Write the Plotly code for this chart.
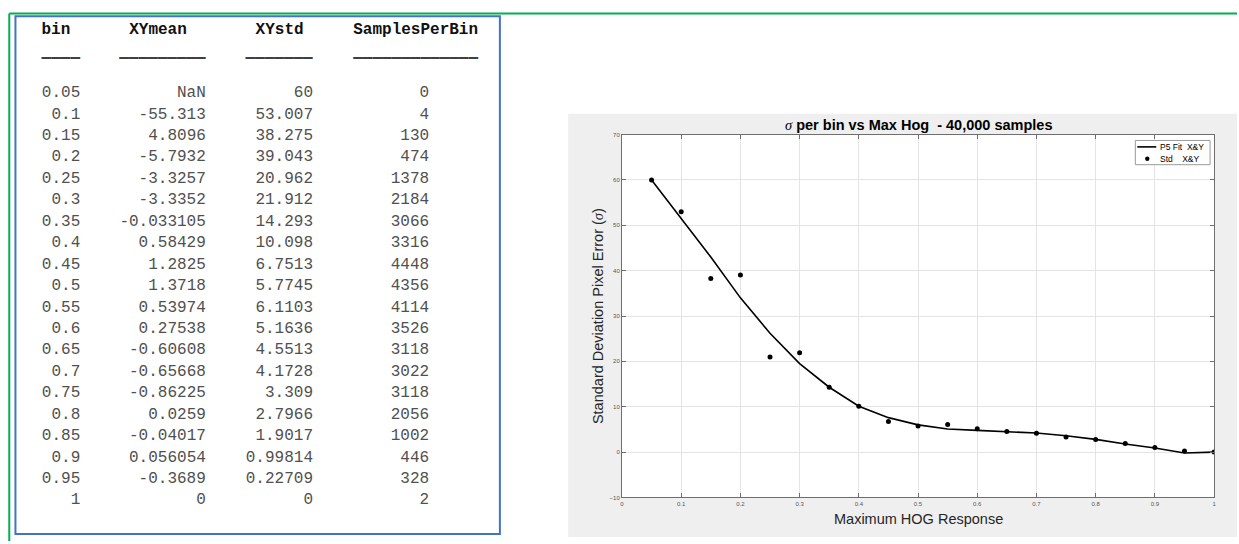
import plotly.graph_objects as go

W, H = 1239, 544

# ---------------- data ----------------
bins = [0.05, 0.1, 0.15, 0.2, 0.25, 0.3, 0.35, 0.4, 0.45, 0.5,
        0.55, 0.6, 0.65, 0.7, 0.75, 0.8, 0.85, 0.9, 0.95, 1.0]
xy_mean = ["NaN", "-55.313", "4.8096", "-5.7932", "-3.3257", "-3.3352", "-0.033105",
           "0.58429", "1.2825", "1.3718", "0.53974", "0.27538", "-0.60608", "-0.65668",
           "-0.86225", "0.0259", "-0.04017", "0.056054", "-0.3689", "0"]
xy_std = [60, 53.007, 38.275, 39.043, 20.962, 21.912, 14.293, 10.098, 6.7513, 5.7745,
          6.1103, 5.1636, 4.5513, 4.1728, 3.309, 2.7966, 1.9017, 0.99814, 0.22709, 0]
samples_per_bin = [0, 4, 130, 474, 1378, 2184, 3066, 3316, 4448, 4356,
                   4114, 3526, 3118, 3022, 3118, 2056, 1002, 446, 328, 2]
# P5 fit curve values at each bin
p5_fit = [60, 51.6, 43.0, 34.0, 26.2, 19.5, 14.3, 10.1, 7.6, 6.0,
          5.1, 4.8, 4.5, 4.2, 3.6, 2.8, 1.8, 0.9, -0.2, 0]

headers = ["bin", "XYmean", "XYstd", "SamplesPerBin"]
legend_names = ["P5 Fit\u00a0 X&Y", "Std\u00a0\u00a0\u00a0 X&Y"]
x_ticks = [0, 0.1, 0.2, 0.3, 0.4, 0.5, 0.6, 0.7, 0.8, 0.9, 1]
x_ticktext = ["0", "0.1", "0.2", "0.3", "0.4", "0.5", "0.6", "0.7", "0.8", "0.9", "1"]
y_ticks = [-10, 0, 10, 20, 30, 40, 50, 60, 70]

# ---------------- layout helpers ----------------
def px(x):
    return x / W

def py(y):
    return 1 - y / H

MONO = "Liberation Mono"
SANS = "Liberation Sans"
SERIF = "Liberation Serif"
SIGMA = f"<span style='font-family:{SERIF}'><i>σ</i></span>"

fig = go.Figure()

# ---------------- table (text on hidden axes, pixel units) ----------------
ROW0, ROWH = 91.2, 21.67
rows_y = [ROW0 + i * ROWH for i in range(len(bins))]
col_right = [78.5, 204.5, 312, 428.5]
header_cx = [54, 156.5, 278.5, 415]
under_cx = [59, 161, 278, 415]
under_len = [4, 9, 7, 13]

bin_txt = [f"{b:g}" for b in bins]
std_txt = [f"{v:g}" for v in xy_std]
smp_txt = [str(v) for v in samples_per_bin]
cols = [bin_txt, xy_mean, std_txt, smp_txt]

for cx, txt in zip(col_right, cols):
    fig.add_trace(go.Scatter(
        x=[cx] * len(txt), y=rows_y, text=txt, mode="text",
        textposition="middle left",
        textfont=dict(family=MONO, size=16, color="#505050"),
        xaxis="x2", yaxis="y2", showlegend=False, hoverinfo="skip"))

fig.add_trace(go.Scatter(
    x=header_cx, y=[27] * 4, text=headers, mode="text",
    textposition="middle center",
    textfont=dict(family=MONO, size=16, color="#111111", weight="bold"),
    xaxis="x2", yaxis="y2", showlegend=False, hoverinfo="skip"))

# MATLAB-style underscore rules under the headers (drawn twice for weight)
for uy in (49.6, 50.6):
    fig.add_trace(go.Scatter(
        x=under_cx, y=[uy] * 4, text=["_" * n for n in under_len], mode="text",
        textposition="middle center",
        textfont=dict(family=MONO, size=16, color="#404040", weight="bold"),
        xaxis="x2", yaxis="y2", showlegend=False, hoverinfo="skip"))

# ---------------- chart ----------------
fig.add_trace(go.Scatter(
    x=bins, y=p5_fit, mode="lines", name=legend_names[0],
    line=dict(color="#000000", width=1.6), showlegend=False))
fig.add_trace(go.Scatter(
    x=bins, y=xy_std, mode="markers", name=legend_names[1],
    marker=dict(color="#000000", size=5), showlegend=False))

axis_common = dict(
    showline=True, linecolor="#6e6e6e", linewidth=1, mirror="ticks",
    ticks="inside", ticklen=4, tickcolor="#6e6e6e",
    showgrid=True, gridcolor="#e4e4e4", gridwidth=1, zeroline=False,
    tickfont=dict(family=SANS, size=6, color="#555555"),
    fixedrange=True)

PL, PR, PT, PB = 622, 1216, 133, 500

fig.update_layout(
    width=W, height=H,
    margin=dict(l=0, r=0, t=0, b=0),
    paper_bgcolor="white", plot_bgcolor="white",
    font=dict(family=SANS),
    showlegend=False,
    xaxis=dict(domain=[px(PL), px(PR)], range=[0, 1], tickvals=x_ticks,
               ticktext=x_ticktext, anchor="y", **axis_common),
    yaxis=dict(domain=[py(PB), py(PT)], range=[-10, 70], tickvals=y_ticks,
               anchor="x", **axis_common),
    xaxis2=dict(domain=[0, 0.42], range=[0, 0.42 * W], visible=False,
                anchor="y2", fixedrange=True),
    yaxis2=dict(domain=[0, 1], range=[H, 0], visible=False,
                anchor="x2", fixedrange=True),
)

# chart title & axis titles
fig.add_annotation(
    x=px((PL + PR) / 2), y=py(123), xref="paper", yref="paper",
    text=f"{SIGMA} <b>per bin vs Max Hog\u00a0 - 40,000 samples</b>",
    showarrow=False, font=dict(family=SANS, size=14.5, color="#000000"),
    xanchor="center", yanchor="middle")
fig.add_annotation(
    x=px((PL + PR) / 2), y=py(521.5), xref="paper", yref="paper",
    text="Maximum HOG Response", showarrow=False,
    font=dict(family=SANS, size=14.5, color="#262626"),
    xanchor="center", yanchor="middle")
fig.add_annotation(
    x=px(598), y=py((PT + PB) / 2), xref="paper", yref="paper",
    text=f"Standard Deviation Pixel Error ({SIGMA})", showarrow=False,
    textangle=-90, font=dict(family=SANS, size=14.5, color="#262626"),
    xanchor="center", yanchor="middle")

# custom compact legend (MATLAB style)
LX0, LX1, LY0, LY1 = 1137, 1212, 139, 163.5
for name, ly in zip(legend_names, [145.5, 157.5]):
    fig.add_annotation(
        x=px(1160), y=py(ly), xref="paper", yref="paper", text=name,
        showarrow=False, font=dict(family=SANS, size=8.5, color="#000000"),
        xanchor="left", yanchor="middle")

# ---------------- decorations ----------------
shapes = [
    # grey MATLAB figure background
    dict(type="rect", xref="paper", yref="paper", x0=px(568), x1=px(1239),
         y0=py(540), y1=py(112), fillcolor="#efefef", line=dict(width=0),
         layer="below"),
    # white axes background
    dict(type="rect", xref="x domain", yref="y domain", x0=0, x1=1, y0=0, y1=1,
         fillcolor="white", line=dict(width=0), layer="below"),
    # legend box and glyphs
    dict(type="rect", xref="paper", yref="paper", x0=px(LX0), x1=px(LX1),
         y0=py(LY1), y1=py(LY0), fillcolor="white",
         line=dict(color="#9a9a9a", width=1)),
    dict(type="line", xref="paper", yref="paper", x0=px(1139), x1=px(1158),
         y0=py(145.5), y1=py(145.5), line=dict(color="#000000", width=1.6)),
    dict(type="circle", xref="paper", yref="paper", x0=px(1146.8), x1=px(1151.2),
         y0=py(159.7), y1=py(155.3), fillcolor="#000000",
         line=dict(color="#000000", width=0)),
    # green outer frame (top + left)
    dict(type="line", xref="paper", yref="paper", x0=px(7.3), x1=1,
         y0=py(10.5), y1=py(10.5), line=dict(color="#00b050", width=2)),
    dict(type="line", xref="paper", yref="paper", x0=px(7.3), x1=px(7.3),
         y0=py(10.5), y1=0, line=dict(color="#00b050", width=2)),
    # blue table frame
    dict(type="rect", xref="paper", yref="paper", x0=px(13.5), x1=px(499.5),
         y0=py(537), y1=py(13.5), line=dict(color="#4472c4", width=2),
         fillcolor="rgba(0,0,0,0)"),
]
fig.update_layout(shapes=shapes)

fig.write_html("out.html")
